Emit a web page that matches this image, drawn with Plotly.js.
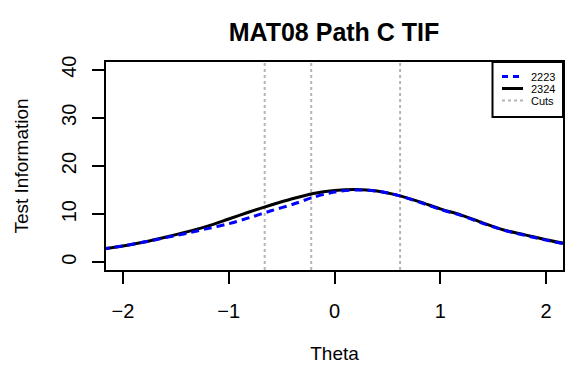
<!DOCTYPE html>
<html>
<head>
<meta charset="utf-8">
<script src="https://cdn.plot.ly/plotly-3.0.1.min.js"></script>
<style>html,body{margin:0;padding:0;background:#fff;}#chart{width:565px;height:371px;}</style>
</head>
<body>
<div id="chart"></div>
<script>
// Data
const theta = [-2.2, -2.0, -1.8, -1.6, -1.4, -1.2, -1.0, -0.8, -0.6, -0.4, -0.2, 0.0, 0.2, 0.4, 0.6, 0.8, 1.0, 1.2, 1.4, 1.6, 1.8, 2.0, 2.2];
const tif2223 = [2.75, 3.4, 4.2, 5.1, 6.0, 7.0, 8.0, 9.3, 10.7, 12.0, 13.5, 14.6, 15.0, 14.8, 13.9, 12.5, 11.0, 9.7, 8.1, 6.7, 5.6, 4.6, 3.7];
const tif2324 = [2.75, 3.4, 4.2, 5.2, 6.3, 7.5, 9.0, 10.5, 11.9, 13.2, 14.3, 14.9, 15.1, 14.8, 13.9, 12.6, 11.1, 9.8, 8.2, 6.7, 5.7, 4.7, 3.8];
const cuts = [-0.66, -0.22, 0.62];
const seriesNames = ["2223", "2324", "Cuts"];
const xTicks = [-2, -1, 0, 1, 2];
const yTicks = [0, 10, 20, 30, 40];

const W = 565, H = 371;
const FONT = "Liberation Sans, Arial, sans-serif";

const traces = [
  {x: theta, y: tif2324, name: seriesNames[1], type: "scatter", mode: "lines",
   line: {color: "#000000", width: 3, shape: "spline", smoothing: 0.8}, showlegend: false, cliponaxis: true},
  {x: theta, y: tif2223, name: seriesNames[0], type: "scatter", mode: "lines",
   line: {color: "#0000FF", width: 3, dash: "8px,5px", shape: "spline", smoothing: 0.8}, showlegend: false, cliponaxis: true}
];

const shapes = cuts.map(c => ({
  type: "line", xref: "x", yref: "paper", x0: c, x1: c, y0: 0, y1: 1,
  line: {color: "#B4B4B4", width: 2, dash: "dot"}, layer: "below"
}));

// Legend box (top-right)
const L = 106, R = 2, T = 62, B = 101;
const pw = W - L - R, ph = H - T - B;
const px = x => (x - L) / pw;
const py = y => 1 - (y - T) / ph;
shapes.push({type: "rect", xref: "paper", yref: "paper", x0: px(492.5), x1: px(563), y0: py(117), y1: py(62),
  line: {color: "#000", width: 2}, fillcolor: "#fff", layer: "above"});
const legY = [76.5, 88.5, 100.5];
const legStyles = [
  {color: "#0000FF", width: 3, dash: "6px,5px"},
  {color: "#000000", width: 3},
  {color: "#B4B4B4", width: 2, dash: "dot"}
];
const annotations = [];
for (let i = 0; i < 3; i++) {
  shapes.push({type: "line", xref: "paper", yref: "paper", x0: px(502), x1: px(523), y0: py(legY[i]), y1: py(legY[i]),
    line: legStyles[i], layer: "above"});
  annotations.push({xref: "paper", yref: "paper", x: px(530), y: py(legY[i]), xanchor: "left", yanchor: "middle",
    text: seriesNames[i], showarrow: false, borderpad: 0, font: {family: FONT, size: 11, color: "#000"}});
}

const layout = {
  width: W, height: H,
  margin: {l: L, r: R, t: T, b: B, pad: 0},
  paper_bgcolor: "#fff", plot_bgcolor: "#fff",
  showlegend: false,
  title: {text: "<b>MAT08 Path C TIF</b>", font: {family: FONT, size: 25, color: "#000"},
    xref: "container", yref: "container", x: 334 / W, y: 1 - 32 / H, xanchor: "center", yanchor: "middle"},
  xaxis: {
    range: [-2.16, 2.16], tickvals: xTicks, ticktext: xTicks.map(v => v < 0 ? "\u2212" + Math.abs(v) : String(v)),
    ticks: "outside", ticklen: 12, tickwidth: 2, tickcolor: "#000",
    showline: true, mirror: true, linewidth: 2, linecolor: "#000",
    showgrid: false, zeroline: false, ticklabelstandoff: 10,
    tickfont: {family: FONT, size: 20, color: "#000"},
    title: {text: "Theta", font: {family: FONT, size: 19, color: "#000"}, standoff: 26}
  },
  yaxis: {
    range: [-1.6, 41.6], tickvals: yTicks, tickangle: -90,
    ticks: "outside", ticklen: 12, tickwidth: 2, tickcolor: "#000",
    showline: true, mirror: true, linewidth: 2, linecolor: "#000",
    showgrid: false, zeroline: false, ticklabelstandoff: 8,
    tickfont: {family: FONT, size: 20, color: "#000"},
    title: {text: "Test Information", font: {family: FONT, size: 19, color: "#000"}, standoff: 24}
  },
  shapes: shapes,
  annotations: annotations
};

Plotly.newPlot("chart", traces, layout, {displayModeBar: false, staticPlot: true});
</script>
</body>
</html>
